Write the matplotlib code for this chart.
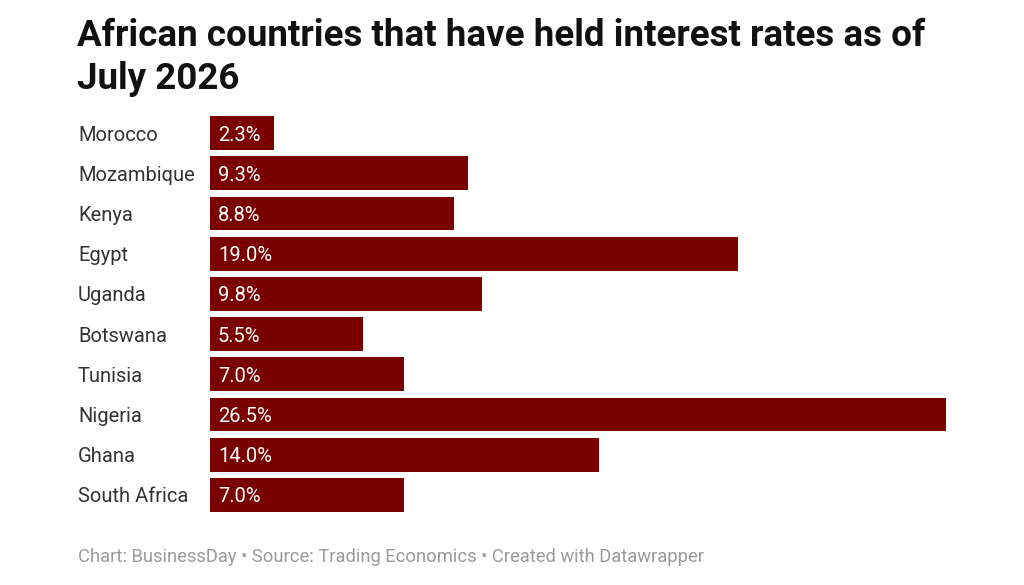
import matplotlib
matplotlib.use("Agg")
import matplotlib.pyplot as plt

countries = ["Morocco", "Mozambique", "Kenya", "Egypt", "Uganda", "Botswana",
             "Tunisia", "Nigeria", "Ghana", "South Africa"]
rates = [2.3, 9.3, 8.8, 19.0, 9.8, 5.5, 7.0, 26.5, 14.0, 7.0]

title = "African countries that have held interest rates as of\nJuly 2026"
footer = "Chart: BusinessDay \u2022 Source: Trading Economics \u2022 Created with Datawrapper"

plt.rcParams['font.family'] = ['Roboto', 'DejaVu Sans']

fig = plt.figure(figsize=(10.24, 5.85), dpi=100)
ax = fig.add_axes([210 / 1024, 1 - 515 / 585, 736 / 1024, 402 / 585])

pos = list(range(len(countries)))
ax.barh(pos, rates, height=0.84, color="#7a0000")
ax.set_xlim(0, max(rates))
ax.set_ylim(len(countries) - 0.5, -0.5)

for i, (c, r) in enumerate(zip(countries, rates)):
    ax.annotate(f"{r:.1f}%", xy=(0, i), xytext=(8, -2), textcoords="offset pixels",
                color="white", va="center", ha="left", fontsize=14.5)
    ax.annotate(c, xy=(0, i), xycoords=("axes fraction", "data"),
                xytext=(78 - 210, -2), textcoords="offset pixels",
                va="center", ha="left", fontsize=14.5, color="#333333")

ax.axis("off")

fig.text(77 / 1024, 1 - 18 / 585, title, fontsize=26.5, fontweight="bold",
         va="top", ha="left", color="#111111", linespacing=1.25)
fig.text(78 / 1024, 1 - 557 / 585, footer, fontsize=13.2, color="#9a9a9a",
         va="center", ha="left")

fig.savefig("out.png", dpi=100)
